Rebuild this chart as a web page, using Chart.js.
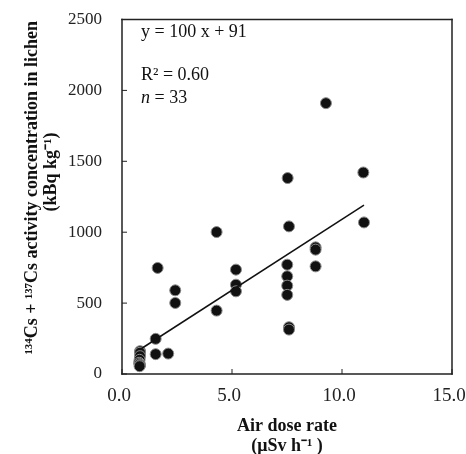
<!DOCTYPE html>
<html>
<head>
<meta charset="utf-8">
<script src="https://cdn.jsdelivr.net/npm/chart.js@4/dist/chart.umd.min.js"></script>
<style>
  html, body { margin: 0; padding: 0; background: #fff; }
</style>
</head>
<body>
<canvas id="grafico" width="466" height="454"></canvas>
<script>
/* Tasa de dosis en aire (µSv h-1) de cada muestra */
var dosis = [
  9.27, 7.53, 10.97,
  7.59, 4.30, 11.0, 8.80, 8.80, 8.80,
  7.51, 7.51, 7.51, 7.51,
  5.18, 5.18, 5.18,
  1.62, 2.42, 2.42, 4.30, 7.59, 7.59,
  1.53, 1.53, 2.10,
  0.82, 0.82, 0.82, 0.80, 0.78, 0.80, 0.82, 0.80
];
/* Concentración 134Cs + 137Cs en liquen (kBq kg-1) */
var concentracion = [
  1910, 1382, 1421,
  1041, 1001, 1069, 893, 877, 759,
  771, 689, 623, 558,
  736, 630, 583,
  748, 590, 501, 447, 330, 313,
  248, 140, 144,
  161, 150, 126, 100, 79, 70, 62, 55
];
/* Extremos de la recta de regresión y = 100 x + 91 */
var rectaX = [0.8, 11.0];
var rectaY = [171, 1191];
/* Marcas de los ejes */
var marcasX = [0, 5, 10, 15];
var marcasY = [0, 500, 1000, 1500, 2000, 2500];

var puntos = dosis.map(function (d, i) { return { x: d, y: concentracion[i] }; });
var recta = rectaX.map(function (d, i) { return { x: d, y: rectaY[i] }; });

Chart.defaults.font.family = "'Liberation Serif', 'Times New Roman', serif";
Chart.defaults.color = '#111';

/* Marco, marcas hacia dentro y textos de la ecuación */
var marcoPlugin = {
  id: 'marco',
  afterDraw: function (chart) {
    var ctx = chart.ctx, a = chart.chartArea;
    var izq = a.left, der = a.right, arr = a.top, aba = a.bottom;
    var sx = chart.scales.x, sy = chart.scales.y;
    ctx.save();
    ctx.fillStyle = '#222';
    ctx.fillRect(izq - 0.75, arr - 0.75, der - izq + 1.5, 1.5);
    ctx.fillRect(izq - 0.75, aba - 0.75, der - izq + 1.5, 1.5);
    ctx.fillRect(izq - 0.75, arr - 0.75, 1.5, aba - arr + 1.5);
    ctx.fillRect(der - 0.75, arr - 0.75, 1.5, aba - arr + 1.5);
    marcasY.forEach(function (v) {
      var py = sy.getPixelForValue(v);
      ctx.fillRect(izq, py - 0.5, 5, 1);
    });
    marcasX.forEach(function (v) {
      var px = sx.getPixelForValue(v);
      ctx.fillRect(px - 0.5, aba - 5, 1, 5);
    });
    ctx.fillStyle = '#111';
    ctx.textBaseline = 'middle';
    ctx.textAlign = 'left';
    ctx.font = "18px 'Liberation Serif'";
    ctx.fillText('y = 100 x + 91', izq + 19, arr + 13);
    ctx.fillText('R\u00b2 = 0.60', izq + 19, arr + 56);
    ctx.font = "italic 18px 'Liberation Serif'";
    ctx.fillText('n', izq + 19, arr + 79);
    var w = ctx.measureText('n').width;
    ctx.font = "18px 'Liberation Serif'";
    ctx.fillText(' = 33', izq + 19 + w, arr + 79);
    ctx.restore();
  }
};

new Chart(document.getElementById('grafico'), {
  type: 'scatter',
  data: {
    datasets: [
      {
        label: 'Muestras',
        data: puntos,
        backgroundColor: '#111',
        borderColor: '#8a8a8a',
        borderWidth: 1,
        pointRadius: 5.5,
        pointHoverRadius: 5.5,
        order: 2
      },
      {
        type: 'line',
        label: 'Regresión',
        data: recta,
        borderColor: '#111',
        borderWidth: 1.5,
        pointRadius: 0,
        fill: false,
        order: 1
      }
    ]
  },
  options: {
    responsive: false,
    animation: false,
    layout: { autoPadding: false, padding: { top: 19.5, right: 14, left: 0, bottom: 0 } },
    plugins: { legend: { display: false }, tooltip: { enabled: false } },
    scales: {
      x: {
        type: 'linear', min: 0, max: 15,
        afterBuildTicks: function (s) { s.ticks = marcasX.map(function (v) { return { value: v }; }); },
        afterFit: function (s) { s.height = 80; s.paddingLeft = 0; s.paddingRight = 0; },
        grid: { display: false, drawTicks: false },
        border: { display: false },
        ticks: {
          padding: 11,
          labelOffset: -3,
          font: { size: 19 },
          color: '#222',
          callback: function (v) { return v.toFixed(1); }
        },
        title: {
          display: true,
          text: ['Air dose rate', '(\u03bcSv h\u207b\u00b9 )'],
          font: { size: 18, weight: 'bold', lineHeight: 1.15 },
          color: '#111',
          padding: { top: 4, bottom: -3 }
        }
      },
      y: {
        type: 'linear', min: 0, max: 2500,
        afterBuildTicks: function (s) { s.ticks = marcasY.map(function (v) { return { value: v }; }); },
        afterFit: function (s) { s.width = 122; s.paddingTop = 0; s.paddingBottom = 0; },
        grid: { display: false, drawTicks: false },
        border: { display: false },
        ticks: {
          padding: 20,
          font: { size: 17 },
          color: '#222',
          callback: function (v) { return String(v); }
        },
        title: {
          display: true,
          text: [
            '    \u00b9\u00b3\u2074Cs + \u00b9\u00b3\u2077Cs activity concentration in lichen',
            '           (kBq kg\u207b\u00b9)'
          ],
          font: { size: 18, weight: 'bold', lineHeight: 1.1 },
          color: '#111',
          padding: { top: 22 }
        }
      }
    }
  },
  plugins: [marcoPlugin]
});
</script>
</body>
</html>
